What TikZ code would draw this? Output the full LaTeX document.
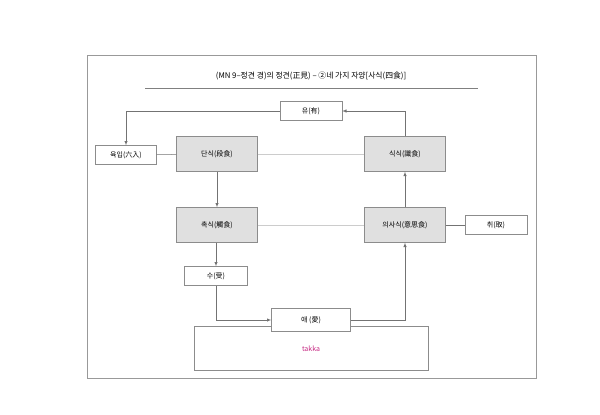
\documentclass[tikz,border=0pt]{standalone}
\usepackage{fontspec}
\setmainfont{Noto Sans CJK KR}
\begin{document}
\begin{tikzpicture}[x=1pt,y=-1pt,
  wbox/.style={draw=black!45,fill=white,minimum height=19pt,font=\fontsize{7}{8}\selectfont,inner sep=1pt},
  gbox/.style={draw=black!45,fill=black!12,minimum width=81pt,minimum height=35pt,font=\fontsize{7}{8}\selectfont},
  conn/.style={draw=black!55,line width=0.5pt},
  lconn/.style={draw=black!20,line width=0.5pt},
  arr/.style={conn,-latex}]
\useasboundingbox (0,0) rectangle (600,415);
\draw[black!40] (87,55) rectangle (536,378);
\node[font=\fontsize{7.8}{9}\selectfont] (title) at (311,76) {(MN 9–정견 경)의 정견(正見) – ②네 가지 자양[사식(四食)]};
\draw[black!50] (145,88) -- (478,88);
\node[wbox,minimum width=62pt] (yu) at (311,111) {유(有)};
\node[wbox,minimum width=61pt] (yuk) at (126,155) {육입(六入)};
\node[gbox] (dan) at (217,154) {단식(段食)};
\node[gbox] (sik) at (405,154) {식식(識食)};
\node[gbox] (chok) at (217,225) {촉식(觸食)};
\node[gbox] (ui) at (405,225) {의사식(意思食)};
\node[wbox,minimum width=62pt] (chwi) at (496,225) {취(取)};
\node[wbox,minimum width=63pt] (su) at (216,276) {수(受)};
\draw[black!45,fill=white] (194,326) rectangle (428,370);
\node[font=\fontsize{7}{8}\selectfont,text=magenta!80!black] (takka) at (311,349) {takka};
\node[wbox,minimum width=79pt,minimum height=23pt] (ae) at (311,320) {애 (愛)};
\draw[conn] (yuk) -- (dan);
\draw[lconn] (dan) -- (sik);
\draw[lconn] (chok) -- (ui);
\draw[conn] (ui) -- (chwi);
\draw[arr] (dan) -- (chok);
\draw[arr] (chok.south -| su.north) -- (su);
\draw[arr] (su.south) |- (ae.west);
\draw[arr] (ae.east) -| (ui.south);
\draw[arr] (ui) -- (sik);
\draw[arr] (sik.north) |- (yu.east);
\draw[arr] (yu.west) -| (yuk.north);
\end{tikzpicture}
\end{document}
